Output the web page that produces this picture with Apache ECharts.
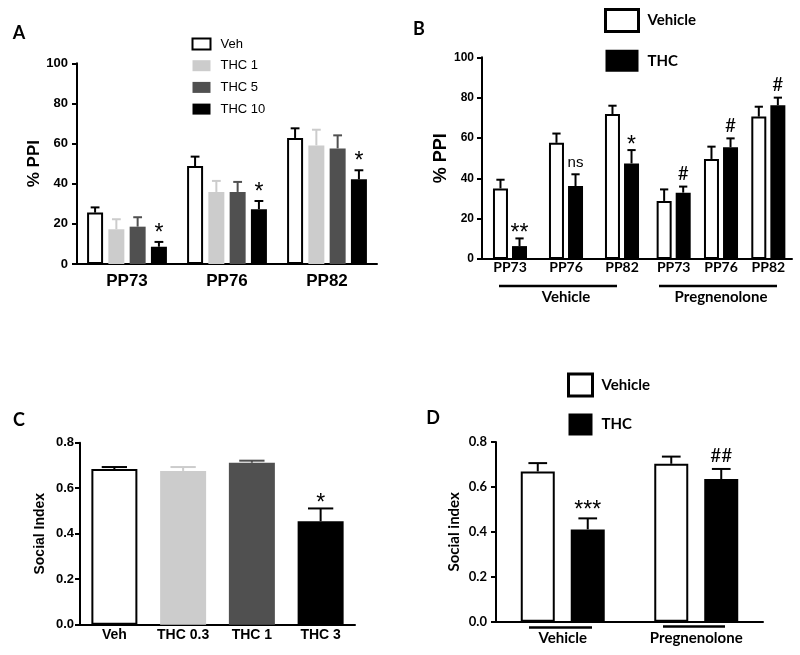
<!DOCTYPE html>
<html><head><meta charset="utf-8">
<script src="https://cdn.jsdelivr.net/npm/echarts@6/dist/echarts.min.js"></script>
<style>html,body{margin:0;padding:0;background:#fff}#c{width:800px;height:655px}</style>
</head><body><div id="c"></div>
<script>
// ---------- Panel A: %PPI, THC doses ----------
const catsA = ['PP73', 'PP76', 'PP82'];
const namesA = ['Veh', 'THC 1', 'THC 5', 'THC 10'];
const vehA = [25.6, 48.8, 62.8];
const vehASem = [2.6, 4.7, 4.8];
const thc1A = [17.3, 35.9, 59.1];
const thc1ASem = [5.0, 5.5, 7.8];
const thc5A = [18.6, 35.9, 57.6];
const thc5ASem = [4.7, 5.0, 6.5];
const thc10A = [8.6, 27.3, 42.2];
const thc10ASem = [2.4, 4.1, 4.5];
const sigA = ['*', '*', '*'];
const ticksPPI = [0, 20, 40, 60, 80, 100];

// ---------- Panel B: %PPI, Vehicle / Pregnenolone pre-treatment ----------
const catsB = ['PP73', 'PP76', 'PP82'];
const groupsB = ['Vehicle', 'Pregnenolone'];
const legendB = ['Vehicle', 'THC'];
const vehVehB = [35.0, 57.6, 71.9];
const vehVehBSem = [4.3, 4.6, 4.1];
const thcVehB = [6.4, 36.2, 47.4];
const thcVehBSem = [3.8, 5.8, 6.6];
const vehPregB = [28.8, 49.6, 70.6];
const vehPregBSem = [5.7, 6.1, 4.9];
const thcPregB = [32.9, 55.4, 76.2];
const thcPregBSem = [3.0, 4.4, 3.8];
const sigThcVehB = ['**', 'ns', '*'];
const sigThcPregB = ['#', '#', '#'];

// ---------- Panel C: Social index, THC doses ----------
const catsC = ['Veh', 'THC 0.3', 'THC 1', 'THC 3'];
const valsC = [0.684, 0.676, 0.712, 0.455];
const semC = [0.009, 0.017, 0.009, 0.056];
const sigC = ['', '', '', '*'];
const ticksSI = [0, 0.2, 0.4, 0.6, 0.8];

// ---------- Panel D: Social index, Vehicle / Pregnenolone ----------
const catsD = ['Vehicle', 'Pregnenolone'];
const vehD = [0.669, 0.703];
const vehDSem = [0.037, 0.032];
const thcD = [0.411, 0.635];
const thcDSem = [0.049, 0.045];
const sigThcD = ['***', '##'];

// ---------- styles ----------
const ARIAL = 'Liberation Sans';
const CALI = 'Lato';
const WHITE = { color: '#ffffff', borderColor: '#000', borderWidth: 2 };
const LIGHT = '#cccccc', DARK = '#505050', BLACK = '#000000';
const colorsC = [WHITE, { color: LIGHT }, { color: DARK }, { color: BLACK }];
const errColorsC = ['#000', LIGHT, DARK, BLACK];

function sigFont(s) {
  if (s.indexOf('*') >= 0) return { font: 'normal 23px ' + ARIAL, shift: 0.23 * 23 };
  if (s === 'ns') return { font: 'normal 15px ' + ARIAL, shift: -0.09 * 15 };
  return { font: 'normal 19px ' + CALI, shift: 0 };
}

function errSeries(axis, vals, sems, k, n, bw, gapPct, color, sigs, sigGap) {
  const step = bw * (1 + gapPct);
  const off = (k - (n - 1) / 2) * step;
  return {
    type: 'custom', xAxisIndex: axis, yAxisIndex: axis, silent: true, z: 5,
    data: vals.map((v, i) => [i, v, v + sems[i]]),
    renderItem(params, api) {
      const i = api.value(0);
      const p0 = api.coord([i, api.value(1)]);
      const p1 = api.coord([i, api.value(2)]);
      const cx = p0[0] + off;
      const cap = bw * 0.55;
      const col = Array.isArray(color) ? color[params.dataIndex] : color;
      const ch = [
        { type: 'line', shape: { x1: cx, y1: p0[1], x2: cx, y2: p1[1] }, style: { stroke: col, lineWidth: 2 } },
        { type: 'line', shape: { x1: cx - cap / 2, y1: p1[1], x2: cx + cap / 2, y2: p1[1] }, style: { stroke: col, lineWidth: 2 } }
      ];
      const s = sigs ? sigs[params.dataIndex] : '';
      if (s) {
        const f = sigFont(s);
        ch.push({ type: 'text', x: cx, y: p1[1] - sigGap + f.shift,
          style: { text: s, font: f.font, fill: '#000', align: 'center', verticalAlign: 'middle' } });
      }
      return { type: 'group', children: ch };
    }
  };
}

function yAx(grid, ticks, font, size, margin, name, nameSize, nameFont, nameGap, fmt) {
  return {
    gridIndex: grid, type: 'value', min: ticks[0], max: ticks[ticks.length - 1],
    interval: ticks[1] - ticks[0],
    axisLine: { show: true, lineStyle: { color: '#000', width: 2 } },
    axisTick: { show: true, inside: false, length: 5, lineStyle: { color: '#000', width: 2 } },
    splitLine: { show: false },
    axisLabel: { color: '#000', fontFamily: font, fontWeight: 'bold', fontSize: size, margin: margin, formatter: fmt },
    name: name, nameLocation: 'middle', nameGap: nameGap, nameRotate: 90,
    nameTextStyle: { color: '#000', fontFamily: nameFont, fontWeight: 'bold', fontSize: nameSize }
  };
}
function xAx(grid, cats, font, size, margin, name, nameGap) {
  const o = {
    gridIndex: grid, type: 'category', data: cats,
    axisLine: { show: true, lineStyle: { color: '#000', width: 2 } },
    axisTick: { show: false },
    axisLabel: { color: '#000', fontFamily: font, fontWeight: 'bold', fontSize: size, margin: margin, interval: 0 }
  };
  if (name) {
    o.name = name; o.nameLocation = 'middle'; o.nameGap = nameGap;
    o.nameTextStyle = { color: '#000', fontFamily: CALI, fontWeight: 'bold', fontSize: 15 };
  }
  return o;
}
const f1 = v => v.toFixed(1);

const bwA = 16, gA = 0.33, bwB = 15, gB = 0.27, bwD = 34, gD = 0.47;

const option = {
  animation: false,
  backgroundColor: '#ffffff',
  grid: [
    { left: 77, top: 63.3, width: 300, height: 200.7, outerBoundsMode: 'none' },
    { left: 482, top: 57.3, width: 168, height: 201.7, outerBoundsMode: 'none' },
    { left: 650, top: 57.3, width: 142, height: 201.7, outerBoundsMode: 'none' },
    { left: 80, top: 442.7, width: 275, height: 182, outerBoundsMode: 'none' },
    { left: 496, top: 442, width: 267, height: 179.7, outerBoundsMode: 'none' }
  ],
  xAxis: [
    xAx(0, catsA, ARIAL, 17, 9),
    xAx(1, catsB, CALI, 14, 1, groupsB[0], 31),
    xAx(2, catsB, CALI, 14, 1, groupsB[1], 31),
    xAx(3, catsC, ARIAL, 14, 3),
    xAx(4, catsD, CALI, 15, 9)
  ],
  yAxis: [
    yAx(0, ticksPPI, ARIAL, 13, 9, '% PPI', 17, ARIAL, 27),
    yAx(1, ticksPPI, ARIAL, 12, 8, '% PPI', 18, ARIAL, 32),
    Object.assign(yAx(2, ticksPPI, ARIAL, 12, 8, '', 12, ARIAL, 30), { show: false }),
    yAx(3, ticksSI, ARIAL, 13, 6, 'Social Index', 14, ARIAL, 33, f1),
    yAx(4, ticksSI, CALI, 13, 9, 'Social index', 15, CALI, 34, f1)
  ],
  legend: [
    { data: namesA, orient: 'vertical', left: 191.5, top: 37.5, padding: 0,
      itemWidth: 18, itemHeight: 11, itemGap: 8.7, icon: 'rect', selectedMode: false,
      textStyle: { color: '#000', fontFamily: ARIAL, fontSize: 13, padding: [0, 0, 0, 5] } },
    { data: [{ name: legendB[0], itemStyle: { borderWidth: 3 } }, legendB[1]], orient: 'vertical',
      left: 604, top: 8, padding: 0, itemWidth: 33, itemHeight: 22, itemGap: 16.7, icon: 'rect', selectedMode: false,
      textStyle: { color: '#000', fontFamily: CALI, fontWeight: 'bold', fontSize: 15, padding: [0, 0, 0, 4] } },
    { data: [{ name: legendB[0], itemStyle: { borderWidth: 3 } }, legendB[1]], orient: 'vertical',
      left: 567, top: 372.5, padding: 0, itemWidth: 24, itemHeight: 22, itemGap: 16, icon: 'rect', selectedMode: false,
      textStyle: { color: '#000', fontFamily: CALI, fontWeight: 'bold', fontSize: 15, padding: [0, 0, 0, 4] } }
  ],
  graphic: [
    { type: 'text', x: 19, y: 33, style: { text: 'A', font: 'bold 18px ' + CALI, fill: '#000', align: 'center', verticalAlign: 'middle' } },
    { type: 'text', x: 419, y: 29, style: { text: 'B', font: 'bold 18px ' + CALI, fill: '#000', align: 'center', verticalAlign: 'middle' } },
    { type: 'text', x: 19, y: 420, style: { text: 'C', font: 'bold 18px ' + CALI, fill: '#000', align: 'center', verticalAlign: 'middle' } },
    { type: 'text', x: 433, y: 418, style: { text: 'D', font: 'bold 18px ' + CALI, fill: '#000', align: 'center', verticalAlign: 'middle' } },
    { type: 'line', shape: { x1: 499, y1: 286, x2: 617, y2: 286 }, style: { stroke: '#000', lineWidth: 2.5 } },
    { type: 'line', shape: { x1: 659, y1: 286, x2: 777, y2: 286 }, style: { stroke: '#000', lineWidth: 2.5 } },
    { type: 'line', shape: { x1: 529, y1: 627.5, x2: 592, y2: 627.5 }, style: { stroke: '#000', lineWidth: 2.5 } },
    { type: 'line', shape: { x1: 663, y1: 626.5, x2: 725, y2: 626.5 }, style: { stroke: '#000', lineWidth: 2.5 } }
  ],
  series: [
    // Panel A bars
    { name: namesA[0], type: 'bar', xAxisIndex: 0, yAxisIndex: 0, data: vehA, barWidth: bwA, barGap: '33%', itemStyle: WHITE },
    { name: namesA[1], type: 'bar', xAxisIndex: 0, yAxisIndex: 0, data: thc1A, barWidth: bwA, barGap: '33%', itemStyle: { color: LIGHT } },
    { name: namesA[2], type: 'bar', xAxisIndex: 0, yAxisIndex: 0, data: thc5A, barWidth: bwA, barGap: '33%', itemStyle: { color: DARK } },
    { name: namesA[3], type: 'bar', xAxisIndex: 0, yAxisIndex: 0, data: thc10A, barWidth: bwA, barGap: '33%', itemStyle: { color: BLACK } },
    errSeries(0, vehA, vehASem, 0, 4, bwA, gA, '#000'),
    errSeries(0, thc1A, thc1ASem, 1, 4, bwA, gA, LIGHT),
    errSeries(0, thc5A, thc5ASem, 2, 4, bwA, gA, DARK),
    errSeries(0, thc10A, thc10ASem, 3, 4, bwA, gA, BLACK, sigA, 13.6),
    // Panel B bars
    { name: legendB[0], type: 'bar', xAxisIndex: 1, yAxisIndex: 1, data: vehVehB, barWidth: bwB, barGap: '27%', itemStyle: WHITE },
    { name: legendB[1], type: 'bar', xAxisIndex: 1, yAxisIndex: 1, data: thcVehB, barWidth: bwB, barGap: '27%', itemStyle: { color: BLACK } },
    { name: legendB[0], type: 'bar', xAxisIndex: 2, yAxisIndex: 2, data: vehPregB, barWidth: bwB, barGap: '27%', itemStyle: WHITE },
    { name: legendB[1], type: 'bar', xAxisIndex: 2, yAxisIndex: 2, data: thcPregB, barWidth: bwB, barGap: '27%', itemStyle: { color: BLACK } },
    errSeries(1, vehVehB, vehVehBSem, 0, 2, bwB, gB, '#000'),
    errSeries(1, thcVehB, thcVehBSem, 1, 2, bwB, gB, BLACK, sigThcVehB, 10),
    errSeries(2, vehPregB, vehPregBSem, 0, 2, bwB, gB, '#000'),
    errSeries(2, thcPregB, thcPregBSem, 1, 2, bwB, gB, BLACK, sigThcPregB, 13),
    // Panel C bars
    { name: 'SocialC', type: 'bar', xAxisIndex: 3, yAxisIndex: 3, barWidth: 46,
      data: valsC.map((v, i) => ({ value: v, itemStyle: colorsC[i] })) },
    errSeries(3, valsC, semC, 0, 1, 46, 0, errColorsC, sigC, 10),
    // Panel D bars
    { name: legendB[0], type: 'bar', xAxisIndex: 4, yAxisIndex: 4, data: vehD, barWidth: bwD, barGap: '47%', itemStyle: WHITE },
    { name: legendB[1], type: 'bar', xAxisIndex: 4, yAxisIndex: 4, data: thcD, barWidth: bwD, barGap: '47%', itemStyle: { color: BLACK } },
    errSeries(4, vehD, vehDSem, 0, 2, bwD, gD, '#000'),
    errSeries(4, thcD, thcDSem, 1, 2, bwD, gD, BLACK, sigThcD, 13)
  ]
};

const chart = echarts.init(document.getElementById('c'));
chart.setOption(option);
</script>
</body></html>
